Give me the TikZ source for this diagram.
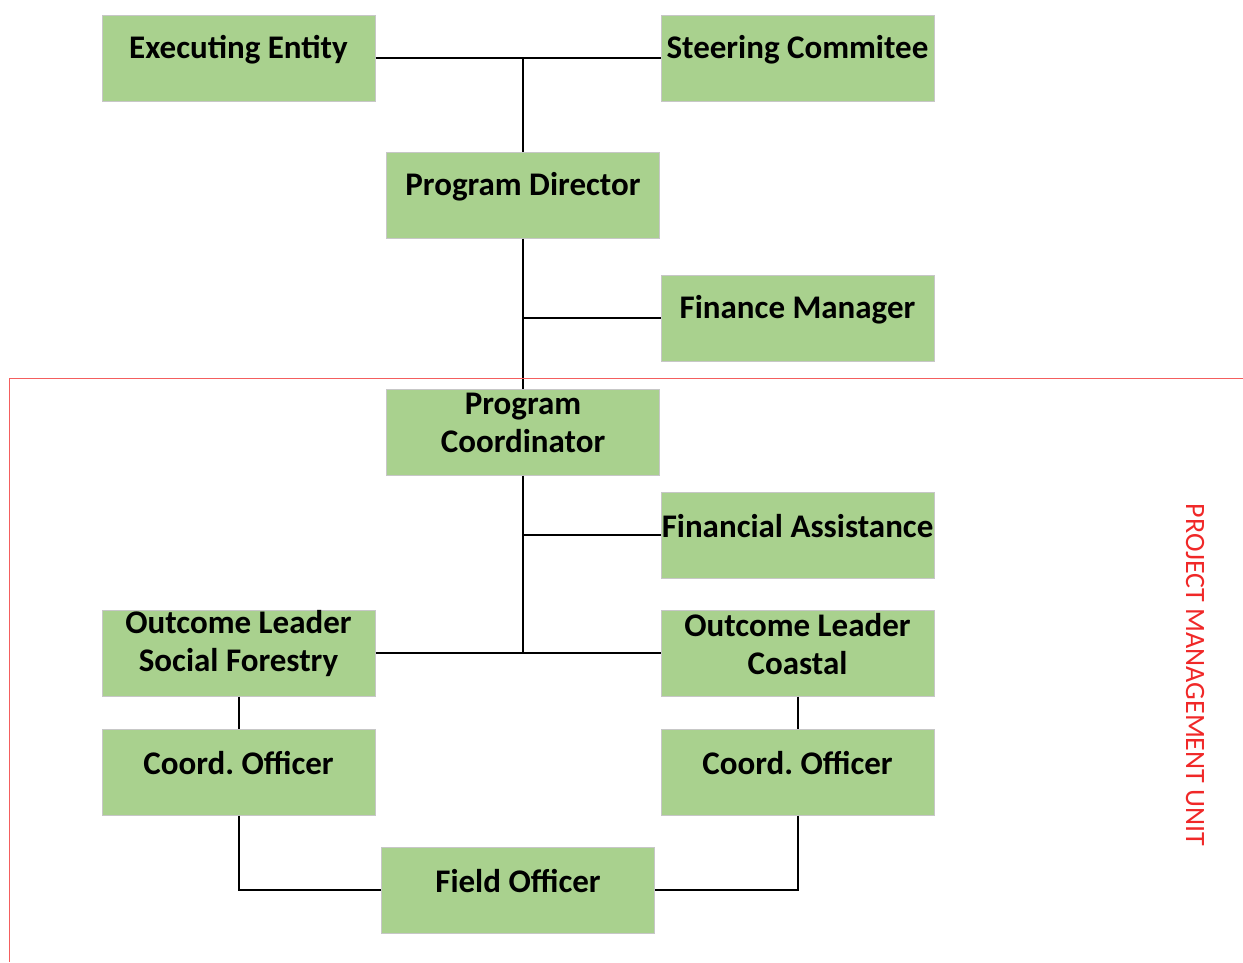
\documentclass[tikz,border=0pt]{standalone}
\usepackage{fontspec}
\setmainfont{Carlito}
\usepackage{tikz}
\usetikzlibrary{positioning}
\definecolor{boxgreen}{RGB}{169,209,142}
\definecolor{unitred}{RGB}{240,40,40}
\frenchspacing

\begin{document}
\begin{tikzpicture}[x=1pt, y=-1pt,
		box/.style={rectangle, draw=black!22, line width=1pt, fill=boxgreen, minimum width=273pt, minimum height=86pt, inner sep=0pt},
		txt/.style={align=center, font=\fontsize{33}{38}\selectfont\bfseries, inner sep=0pt},
		link/.style={line width=2pt, black}]
	\useasboundingbox (0,0) rectangle (1243,962);
	% boxes
	\node[box] (exec) at (238.5,58) {};
	\node[box] (steer) at (797.5,58) {};
	\node[box] (director) at (523,195) {};
	\node[box] (finance) at (797.5,318) {};
	\node[box] (coord) at (523,432) {};
	\node[box] (finassist) at (797.5,535) {};
	\node[box] (olsf) at (238.5,653) {};
	\node[box] (olc) at (797.5,653) {};
	\node[box] (coofl) at (238.5,772) {};
	\node[box] (coofr) at (797.5,772) {};
	\node[box] (field) at (518,890) {};
	% texts
	\node[txt] (execT) at ([yshift=8.5pt]exec.center) {Executing Entity};
	\node[txt] (steerT) at ([yshift=8.5pt]steer.center) {Steering Commitee};
	\node[txt] (directorT) at ([yshift=8.5pt]director.center) {Program Director};
	\node[txt] (financeT) at ([yshift=8.5pt]finance.center) {Finance Manager};
	\node[txt] (coordT) at ([yshift=9pt]coord.center) {Program\\Coordinator};
	\node[txt] (finassistT) at ([yshift=8.5pt]finassist.center) {Financial Assistance};
	\node[txt] (olsfT) at ([yshift=9pt]olsf.center) {Outcome Leader\\Social Forestry};
	\node[txt] (olcT) at ([yshift=9pt]olc.center) {Outcome Leader\\Coastal};
	\node[txt] (cooflT) at ([yshift=8.5pt]coofl.center) {Coord. Officer};
	\node[txt] (coofrT) at ([yshift=8.5pt]coofr.center) {Coord. Officer};
	\node[txt] (fieldT) at ([yshift=8.5pt]field.center) {Field Officer};
	% links
	\draw[link] (exec.east) -- (steer.west);
	\draw[link] (director.north) -- (director.north |- exec.east);
	\draw[link] (director.south) -- (coord.north);
	\draw[link] (finance.west) -- (finance.west -| director.south);
	\draw[link] (coord.south) -- (coord.south |- olsf.east);
	\draw[link] (finassist.west) -- (finassist.west -| coord.south);
	\draw[link] (olsf.east) -- (olc.west);
	\draw[link] (olsf.south) -- (coofl.north);
	\draw[link] (olc.south) -- (coofr.north);
	\draw[link] (coofl.south) |- (field.west);
	\draw[link] (coofr.south) |- (field.east);
	% unit frame
	\coordinate (frameR) at (1243,378);
	\coordinate (frameC) at (9,378);
	\coordinate (frameB) at (9,962);
	\draw[unitred!75, line width=1pt] (frameR) -- (frameC) -- (frameB);
	\node[rotate=-90, text=unitred, font=\fontsize{28}{32}\selectfont, inner sep=0pt] (unit) at (1195,675) {PROJECT MANAGEMENT UNIT};
\end{tikzpicture}
\end{document}
